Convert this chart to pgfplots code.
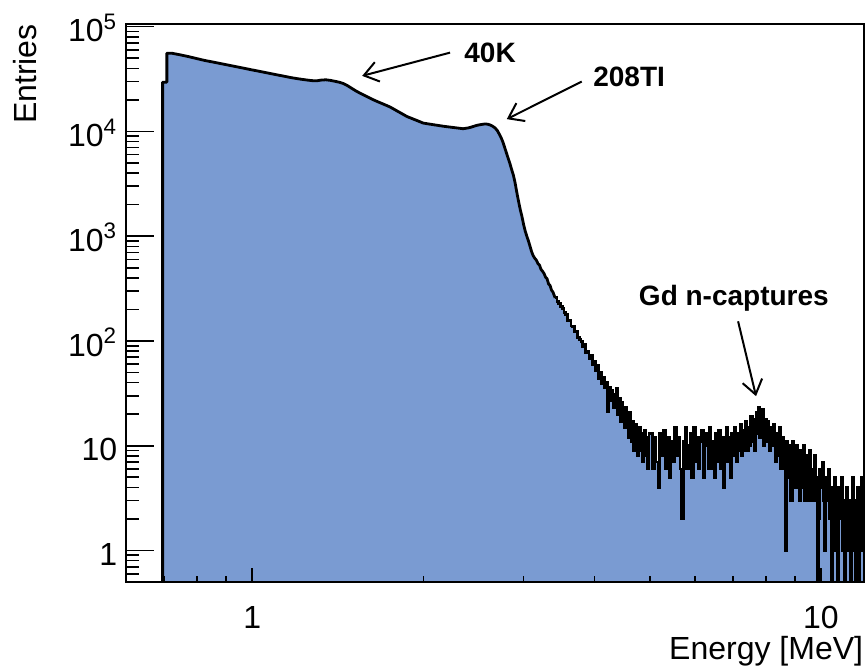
\documentclass[border=0pt]{standalone}
\usepackage{fontspec}
\setmainfont{Liberation Sans}
\usepackage{pgfplots}
\usepackage{pgfplotstable}
\pgfplotsset{compat=1.18}
\usetikzlibrary{arrows.meta}
\definecolor{histfill}{RGB}{122,155,210}

% smooth part of the spectrum (E in MeV, entries)
\pgfplotstableread{
E N
0.696 0.1
0.696 29500
0.708 29500
0.708 55800
0.722 55800
0.7475 53800
0.7725 51800
0.7975 49700
0.8225 47760
0.8475 46250
0.8725 44840
0.8975 43490
0.9225 42200
0.9475 41000
0.9725 39840
0.9975 38750
1.0225 37730
1.0475 36750
1.0725 35840
1.0975 34960
1.1225 34130
1.1475 33330
1.1725 32570
1.1975 31960
1.2225 31420
1.2475 30950
1.2725 30550
1.2975 30400
1.3225 30900
1.3475 31100
1.3725 30700
1.3975 30100
1.4225 29500
1.4475 28600
1.4725 27240
1.4975 25720
1.5225 24320
1.5475 23190
1.5725 22200
1.5975 21260
1.6225 20390
1.6475 19620
1.6725 18950
1.6975 18310
1.7225 17700
1.7475 17100
1.7725 16390
1.7975 15690
1.8225 15050
1.8475 14430
1.8725 13850
1.8975 13460
1.9225 13080
1.9475 12720
1.9725 12370
1.9975 12020
2.0225 11890
2.0475 11760
2.0725 11640
2.0975 11520
2.1225 11410
2.1475 11300
2.1725 11190
2.1975 11100
2.2225 11020
2.2475 10930
2.2725 10850
2.2975 10770
2.3225 10690
2.3475 10610
2.3725 10700
2.3975 10800
2.4225 10950
2.4475 11150
2.4725 11350
2.4975 11500
2.5225 11620
2.5475 11720
2.5725 11780
2.5975 11700
2.6225 11500
2.6475 11200
2.6725 10800
2.6975 10200
2.72 9400
2.74 8700
2.76 7900
2.78 7000
2.80 6200
2.82 5500
2.84 4900
2.86 4300
2.88 3800
2.90 3200
2.92 2600
2.94 2150
2.96 1800
2.98 1550
3.00 1300
3.02 1120
3.04 1000
3.06 900
3.08 800
3.10 710
3.12 650
3.14 615
3.16 590
3.18 548
3.20 530
3.22 482
3.24 462
3.26 440
3.28 405
3.30 392
3.32 350
3.34 338
3.36 305
3.38 292
3.40 268
3.41 258
}\lowpart

% noisy tail, bins given by their left edge (0.1 = empty bin)
\pgfplotstableread[row sep=\\]{
E N\\
3.41 258\\ 3.435 240\\ 3.46 226\\ 3.485 214\\ 3.51 205\\ 3.535 187\\ 3.56 180\\ 3.585 158\\
3.61 157\\ 3.635 139\\ 3.66 137\\ 3.685 122\\ 3.71 124\\ 3.735 108\\ 3.76 104\\ 3.785 98\\
3.81 88\\ 3.835 92\\ 3.86 77\\ 3.885 80\\ 3.91 68\\ 3.935 73\\ 3.96 60\\ 3.985 64\\
4.01 52\\ 4.035 58\\ 4.06 44\\ 4.085 50\\ 4.11 39\\ 4.135 45\\ 4.16 36\\ 4.185 40\\
4.21 21\\ 4.235 36\\ 4.26 27\\ 4.285 34\\ 4.31 23\\ 4.335 31\\ 4.36 35\\ 4.385 20\\
4.41 28\\ 4.435 17\\ 4.46 26\\ 4.485 19\\ 4.51 15\\ 4.535 23\\ 4.56 16\\ 4.585 12\\
4.61 21\\ 4.635 11\\ 4.66 17\\ 4.685 9\\ 4.71 16\\ 4.735 11\\ 4.76 8\\ 4.785 15\\
4.81 9\\ 4.835 13\\ 4.86 7\\ 4.885 14\\ 4.91 8\\ 4.935 12\\ 4.96 6\\ 4.985 13\\
5.01 13\\ 5.05 6\\ 5.09 12\\ 5.13 7\\ 5.17 4\\ 5.21 13\\ 5.25 8\\ 5.29 14\\
5.33 6\\ 5.37 12\\ 5.41 5\\ 5.45 11\\ 5.49 7\\ 5.53 15\\ 5.57 8\\ 5.61 12\\
5.65 6\\ 5.69 2\\ 5.73 11\\ 5.77 15\\ 5.81 6\\ 5.85 10\\ 5.89 13\\ 5.93 5\\
5.97 15\\ 6.01 7\\ 6.05 12\\ 6.09 6\\ 6.13 11\\ 6.17 14\\ 6.21 5\\ 6.25 10\\
6.29 13\\ 6.33 6\\ 6.37 15\\ 6.41 6\\ 6.45 11\\ 6.49 5\\ 6.53 13\\ 6.57 7\\
6.61 14\\ 6.65 6\\ 6.69 12\\ 6.73 4\\ 6.77 10\\ 6.81 15\\ 6.85 7\\ 6.89 12\\
6.93 5\\ 6.97 13\\ 7.01 8\\ 7.05 15\\ 7.09 7\\ 7.13 13\\ 7.17 9\\ 7.21 16\\
7.25 8\\ 7.29 14\\ 7.33 9\\ 7.37 17\\ 7.41 9\\ 7.45 15\\ 7.49 10\\ 7.53 19\\
7.57 11\\ 7.61 18\\ 7.65 9\\ 7.69 21\\ 7.73 13\\ 7.77 23\\ 7.81 12\\ 7.85 20\\
7.89 22\\ 7.93 10\\ 7.97 18\\ 8.01 11\\
8.05 17\\ 8.10 9\\ 8.15 15\\ 8.20 10\\ 8.25 16\\ 8.30 7\\ 8.35 13\\ 8.40 8\\
8.45 15\\ 8.50 6\\ 8.55 12\\ 8.60 7\\ 8.65 1\\ 8.70 11\\ 8.75 5\\ 8.80 10\\
8.85 3\\ 8.90 11\\ 8.95 6\\ 9.00 4\\ 9.05 10\\ 9.10 5\\ 9.15 3\\ 9.20 9\\
9.25 4\\ 9.30 10\\ 9.35 3\\ 9.40 8\\ 9.45 3\\ 9.50 7\\ 9.55 9\\ 9.60 3\\
9.65 6\\ 9.70 3\\ 9.75 8\\ 9.80 5\\ 9.85 0.1\\ 9.90 2\\ 9.95 6\\ 10.00 4\\
10.05 7\\ 10.10 3\\ 10.15 1\\ 10.20 5\\ 10.25 3\\ 10.30 6\\ 10.35 2\\ 10.40 4\\
10.45 0.1\\ 10.50 3\\ 10.55 5\\ 10.60 1\\ 10.65 3\\ 10.70 0.1\\ 10.75 4\\ 10.80 2\\
10.85 5\\ 10.90 1\\ 10.95 3\\ 11.00 0.1\\ 11.05 2\\ 11.10 4\\ 11.15 1\\ 11.20 3\\
11.25 0.1\\ 11.30 2\\ 11.35 5\\ 11.40 1\\ 11.45 3\\ 11.50 0.1\\ 11.55 2\\ 11.60 4\\
11.65 0.1\\ 11.70 3\\ 11.75 1\\ 11.80 5\\ 11.85 2\\ 11.90 0.1\\ 11.95 3\\ 12.00 1\\
12.05 1\\
}\tailpart

\begin{document}
\begin{tikzpicture}[font=\fontsize{16}{19}\selectfont]
\begin{axis}[
    name=ax,
    xmode=log, ymode=log,
    scale only axis,
    width=368.75pt, height=279pt,
    xmin=0.6, xmax=11.88,
    ymin=0.5, ymax=1.06e5,
    log origin y=infty,
    axis on top,
    tick align=inside,
    tick pos=left,
    axis line style={line width=1pt},
    every tick/.style={black, line width=0.8pt},
    major tick length=14pt, minor tick length=6.5pt,
    xtick style={/pgfplots/major tick length=7pt, /pgfplots/minor tick length=3pt},
    xtick={1,10}, xticklabels={1,10},
    minor xtick={0.7,0.8,0.9,2,3,4,5,6,7,8,9,11},
    ytick={1,10,100,1000,10000,100000},
    yticklabels={1,10,10\textsuperscript{2},10\textsuperscript{3},10\textsuperscript{4},10\textsuperscript{5}},
    minor ytick={0.6,0.7,0.8,0.9,2,3,4,5,6,7,8,9,20,30,40,50,60,70,80,90,
                 200,300,400,500,600,700,800,900,2000,3000,4000,5000,6000,7000,8000,9000,
                 20000,30000,40000,50000,60000,70000,80000,90000},
    xticklabel style={anchor=base, yshift=-23pt},
    yticklabel style={anchor=base east, inner sep=0pt, xshift=-4.25pt, yshift=-7.6pt},
    xlabel={Energy [MeV]},
    ylabel={Entries},
    xlabel style={at={(axis description cs:1,-0.138)}, anchor=base east, inner sep=0pt},
    ylabel style={at={(axis description cs:-0.1207,1)}, anchor=base east, inner sep=0pt},
]
\addplot[fill=histfill, draw=none] table {\lowpart} \closedcycle;
\addplot[const plot mark left, fill=histfill, draw=none] table {\tailpart} \closedcycle;
\addplot[black, line width=1.4pt, line join=round] table {\lowpart};
\addplot[const plot mark left, black, line width=1.4pt] table {\tailpart};

\draw[-{Straight Barb[length=7pt,width=10pt]}, line width=1pt]
    (axis cs:2.228,56500) -- (axis cs:1.561,33900);
\node[font=\fontsize{14}{16}\selectfont\bfseries] at (axis cs:2.62,56200) {40K};
\draw[-{Straight Barb[length=7pt,width=10pt]}, line width=1pt]
    (axis cs:3.797,29900) -- (axis cs:2.803,13100);
\node[font=\fontsize{14}{16}\selectfont\bfseries] at (axis cs:4.60,33200) {208TI};
\draw[-{Straight Barb[length=7pt,width=10pt]}, line width=1pt]
    (axis cs:7.15,154) -- (axis cs:7.69,29.7);
\node[font=\fontsize{14}{16}\selectfont\bfseries] at (axis cs:7.03,255) {Gd n-captures};
\end{axis}
\pgfresetboundingbox
\path[use as bounding box] (ax.south west) ++(-63pt,-44pt) rectangle ++(432.5pt,335pt);
\end{tikzpicture}
\end{document}
